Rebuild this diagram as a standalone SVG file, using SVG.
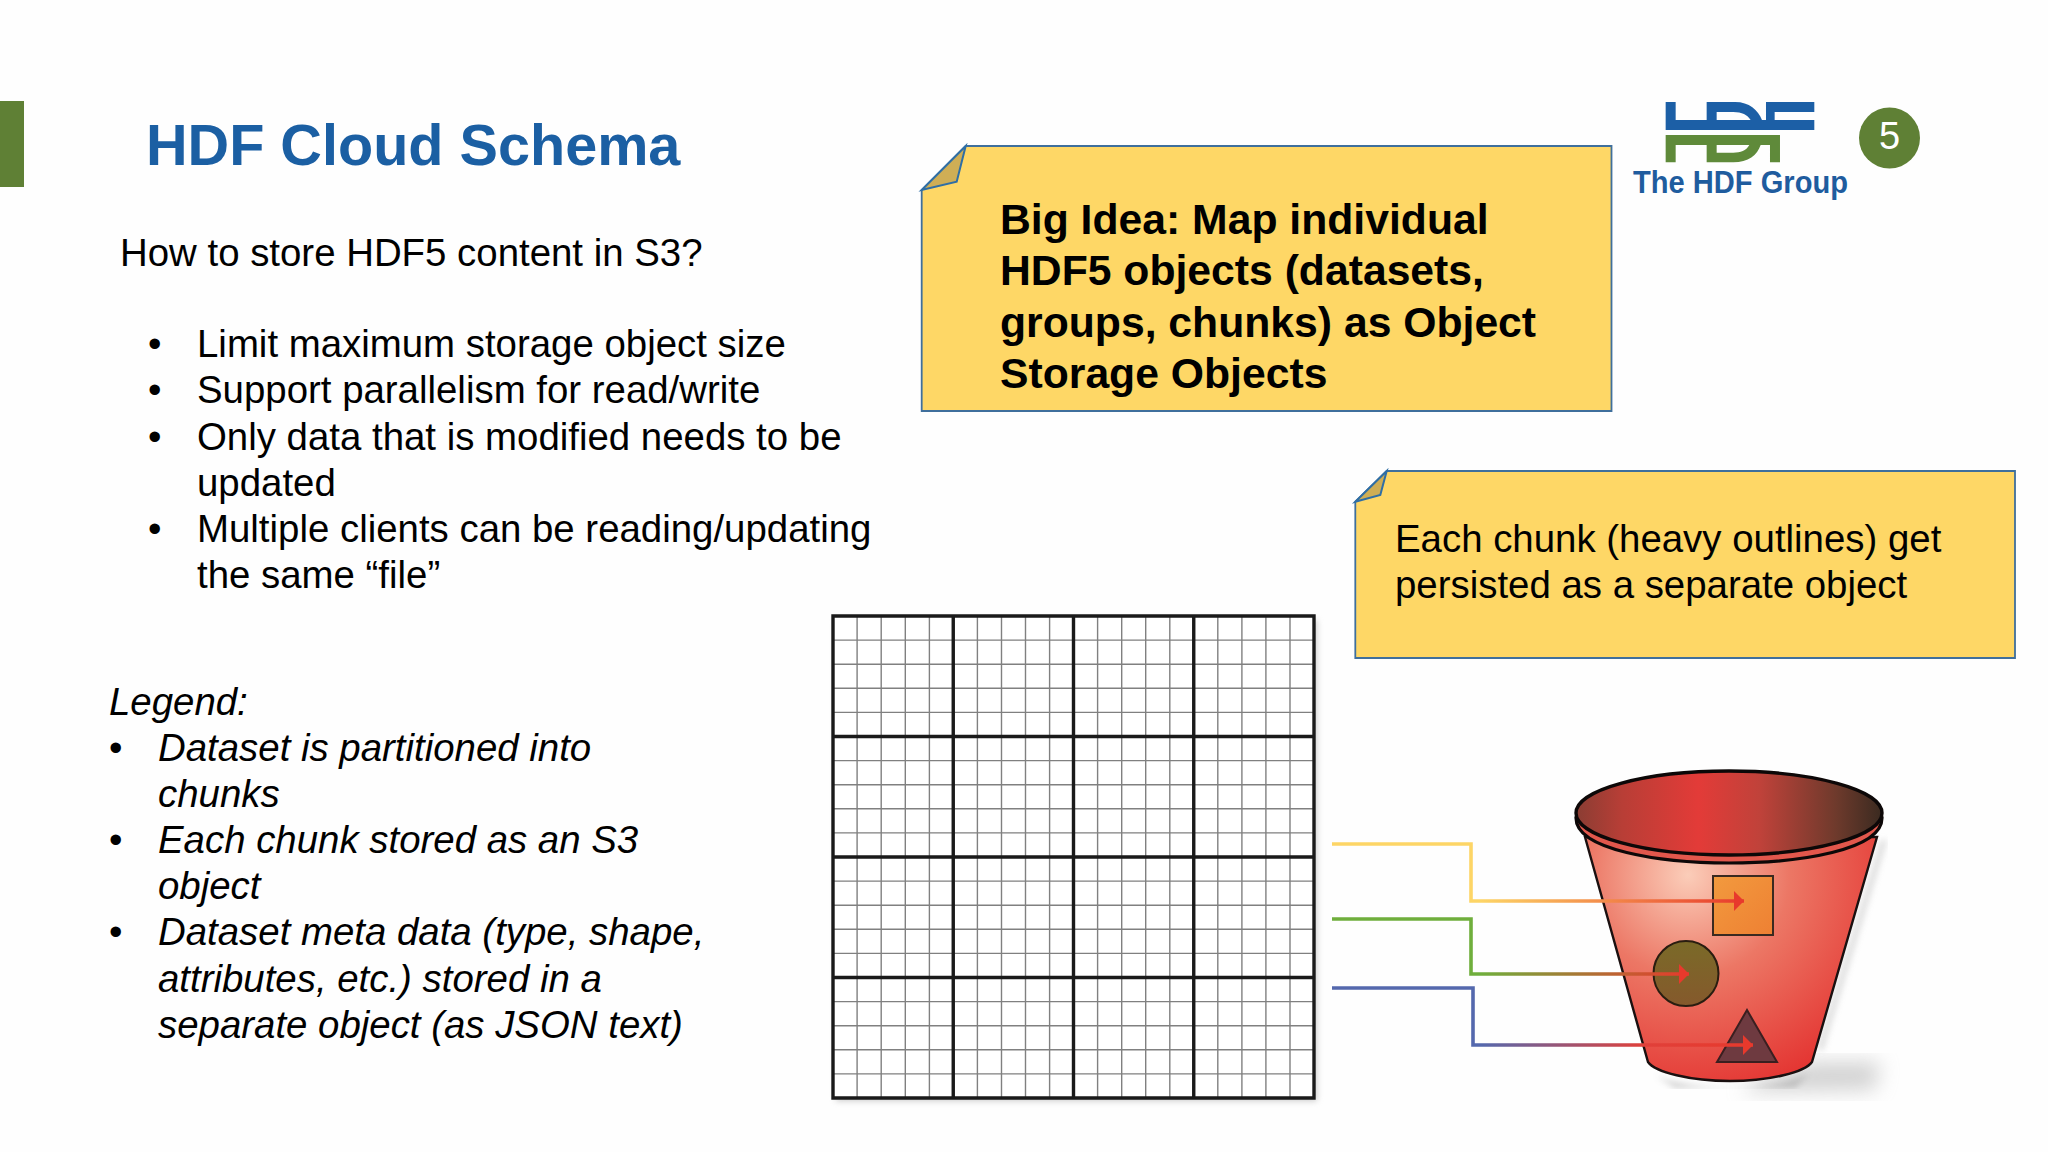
<svg xmlns="http://www.w3.org/2000/svg" width="2048" height="1152" viewBox="0 0 2048 1152">
<style>
text{font-family:"Liberation Sans",Arial,sans-serif;fill:#000}
.b{font-size:38.4px}
.i{font-size:38.4px;font-style:italic}
.u{font-style:normal}
.t{font-size:57.6px;font-weight:bold;fill:#1b5fa3}
.big{font-size:42.7px;font-weight:bold}
.note{fill:#fed766;stroke:#3f6f9c;stroke-width:1.8}
.fold{fill:#cfae55;stroke:#2f6ea5;stroke-width:2}
.maj{stroke:#1a1a1a;stroke-width:3.4;fill:none}
.min{stroke:#808080;stroke-width:1.4;fill:none}
.conn{fill:none;stroke-width:3.6;marker-end:url(#ah)}
.blue{fill:#1c5fa6}
.green{fill:#5f8a3a}
</style>
<defs>
<marker id="ah" markerUnits="userSpaceOnUse" markerWidth="12" markerHeight="20" refX="10" refY="10" orient="auto"><path d="M0,0L10,10L0,20Z" fill="#e8392c"/></marker>
<linearGradient id="gy" gradientUnits="userSpaceOnUse" x1="1480" y1="0" x2="1744" y2="0"><stop offset="0" stop-color="#fdd566"/><stop offset="1" stop-color="#e8392c"/></linearGradient>
<linearGradient id="gg" gradientUnits="userSpaceOnUse" x1="1480" y1="0" x2="1689" y2="0"><stop offset="0" stop-color="#6fae3c"/><stop offset="1" stop-color="#e8392c"/></linearGradient>
<linearGradient id="gb" gradientUnits="userSpaceOnUse" x1="1480" y1="0" x2="1753" y2="0"><stop offset="0" stop-color="#5468ad"/><stop offset=".6" stop-color="#e0403a"/><stop offset="1" stop-color="#e8392c"/></linearGradient>
<linearGradient id="inner" x1="0" y1="0" x2="1" y2="0"><stop offset="0" stop-color="#8a3d33"/><stop offset=".15" stop-color="#b83e36"/><stop offset=".4" stop-color="#e33b38"/><stop offset=".6" stop-color="#c0423a"/><stop offset=".85" stop-color="#6e3a2c"/><stop offset="1" stop-color="#3a2a20"/></linearGradient>
<radialGradient id="body" gradientUnits="userSpaceOnUse" cx="1688" cy="875" r="225"><stop offset="0" stop-color="#fbcdb9"/><stop offset=".45" stop-color="#ec7765"/><stop offset="1" stop-color="#e43532"/></radialGradient>
<linearGradient id="sq" x1="0" y1="0" x2="1" y2="1"><stop offset="0" stop-color="#f29a3e"/><stop offset="1" stop-color="#ee8033"/></linearGradient>
<linearGradient id="ci" x1="0" y1="0" x2="0" y2="1"><stop offset="0" stop-color="#7a6a28"/><stop offset="1" stop-color="#85592c"/></linearGradient>
<filter id="bl" x="-30%" y="-30%" width="160%" height="160%"><feGaussianBlur stdDeviation="10"/></filter>
<filter id="bs" x="-5%" y="-5%" width="110%" height="110%"><feGaussianBlur stdDeviation="3"/></filter>
</defs>
<rect width="2048" height="1152" fill="#fefefe"/>
<rect id="accent" x="0" y="101" width="24" height="86" fill="#5f8035"/>
<text id="title" class="t" x="146" y="165">HDF Cloud Schema</text>
<g id="body-text">
<text class="b" x="120" y="266">How to store HDF5 content in S3?</text>
<text class="b" x="148" y="357">•</text><text class="b" x="197" y="357">Limit maximum storage object size</text>
<text class="b" x="148" y="403">•</text><text class="b" x="197" y="403">Support parallelism for read/write</text>
<text class="b" x="148" y="450">•</text><text class="b" x="197" y="450">Only data that is modified needs to be</text>
<text class="b" x="197" y="496">updated</text>
<text class="b" x="148" y="542">•</text><text class="b" x="197" y="542">Multiple clients can be reading/updating</text>
<text class="b" x="197" y="588">the same “file”</text>
</g>
<g id="legend">
<text class="i" x="109" y="715">Legend:</text>
<text class="i u" x="109" y="761">•</text><text class="i" x="158" y="761">Dataset is partitioned into</text>
<text class="i" x="158" y="807">chunks</text>
<text class="i u" x="109" y="853">•</text><text class="i" x="158" y="853">Each chunk stored as an S3</text>
<text class="i" x="158" y="899">object</text>
<text class="i u" x="109" y="945">•</text><text class="i" x="158" y="945">Dataset meta data (type, shape,</text>
<text class="i" x="158" y="992">attributes, etc.) stored in a</text>
<text class="i" x="158" y="1038">separate object (as JSON text)</text>
</g>
<g id="note-big-idea">
<path class="note" d="M965.7,146H1611.5V411H921.7V190Z"/>
<path class="fold" d="M965.7,146L921.7,190L956.7,181.7Z"/>
<text class="big" x="1000" y="234">Big Idea: Map individual</text>
<text class="big" x="1000" y="285">HDF5 objects (datasets,</text>
<text class="big" x="1000" y="337">groups, chunks) as Object</text>
<text class="big" x="1000" y="388">Storage Objects</text>
</g>
<g id="note-chunk">
<path class="note" d="M1386.7,471H2015V658H1355.3V501.7Z"/>
<path class="fold" d="M1386.7,471L1355.3,501.7L1380.3,495Z"/>
<text class="b" x="1395" y="552">Each chunk (heavy outlines) get</text>
<text class="b" x="1395" y="598">persisted as a separate object</text>
</g>
<g id="logo">
<g transform="translate(1620,90) scale(.3333)">
<path class="blue" d="M137,36H167V90H260V36H345C388,36 414,60 426,90H438V36H583V66H464V90H583V120H137ZM290,66V90H392C382,74 366,66 340,66Z"/>
<path class="green" d="M137,135H480V217H450V165H422C412,195 385,217 340,217H260V165H167V217H137ZM290,165V188H340C362,188 378,183 388,165Z"/>
</g>
<text x="1633" y="193" textLength="215" lengthAdjust="spacingAndGlyphs" style="font-size:31px;font-weight:bold;fill:#1f5c9e">The HDF Group</text>
</g>
<g id="page-number">
<circle cx="1889.5" cy="138" r="30.5" fill="#5f8035"/>
<text x="1889.5" y="149" text-anchor="middle" style="font-size:38px;fill:#fff">5</text>
</g>
<g id="dataset-grid">
<rect x="836" y="620" width="481" height="481" fill="#999" opacity=".5" filter="url(#bs)"/>
<rect x="833" y="616" width="481" height="482" fill="#fff"/>
<path class="min" d="M857.1,616V1098M881.2,616V1098M905.3,616V1098M929.4,616V1098M977.4,616V1098M1001.5,616V1098M1025.5,616V1098M1049.6,616V1098M1097.6,616V1098M1121.7,616V1098M1145.7,616V1098M1169.8,616V1098M1217.8,616V1098M1241.9,616V1098M1265.9,616V1098M1290,616V1098M833,640.1H1314M833,664.2H1314M833,688.3H1314M833,712.4H1314M833,760.6H1314M833,784.7H1314M833,808.8H1314M833,832.9H1314M833,881.1H1314M833,905.2H1314M833,929.3H1314M833,953.4H1314M833,1001.6H1314M833,1025.7H1314M833,1049.8H1314M833,1073.9H1314"/>
<path class="maj" d="M833,616H1314V1098H833ZM953.25,616V1098M1073.5,616V1098M1193.75,616V1098M833,736.5H1314M833,857H1314M833,977.5H1314"/>
</g>
<g id="bucket">
<path d="M1770,1072L1815,1062L1880,1062L1875,1090L1740,1092Z" fill="#a8a8a8" opacity=".5" filter="url(#bl)"/>
<path d="M1655,1075C1690,1092 1780,1092 1810,1072L1795,1088L1675,1088Z" fill="#999" opacity=".45" filter="url(#bs)"/>
<path d="M1884,840L1820,1050" fill="none" stroke="#aaa" stroke-width="6" opacity=".4" filter="url(#bs)"/>
<path d="M1585,837L1648,1062C1655,1072 1690,1081 1730,1081C1770,1081 1805,1072 1812,1062L1877,837Z" fill="url(#body)" stroke="#1a1010" stroke-width="2.4"/>
<path d="M1576,818C1576,850 1660,863 1729,863C1800,863 1882,850 1882,818Z" fill="#e2574c" stroke="#0d0808" stroke-width="3.2"/>
<ellipse cx="1729" cy="813" rx="153" ry="42" fill="url(#inner)" stroke="#0d0808" stroke-width="3.4"/>
<rect x="1713" y="876" width="60" height="59" fill="url(#sq)" stroke="#3a2a20" stroke-width="2"/>
<ellipse cx="1686" cy="973.5" rx="32.5" ry="32.5" fill="url(#ci)" stroke="#2a1d10" stroke-width="2"/>
<path d="M1747,1010L1777,1062H1717Z" fill="#6e3a40" stroke="#3a1f20" stroke-width="2"/>
</g>
<g id="connectors">
<path class="conn" stroke="url(#gy)" d="M1332,844H1471V901H1744"/>
<path class="conn" stroke="url(#gg)" d="M1332,919H1471V974H1689"/>
<path class="conn" stroke="url(#gb)" d="M1332,988H1473V1045H1753"/>
</g>
</svg>
